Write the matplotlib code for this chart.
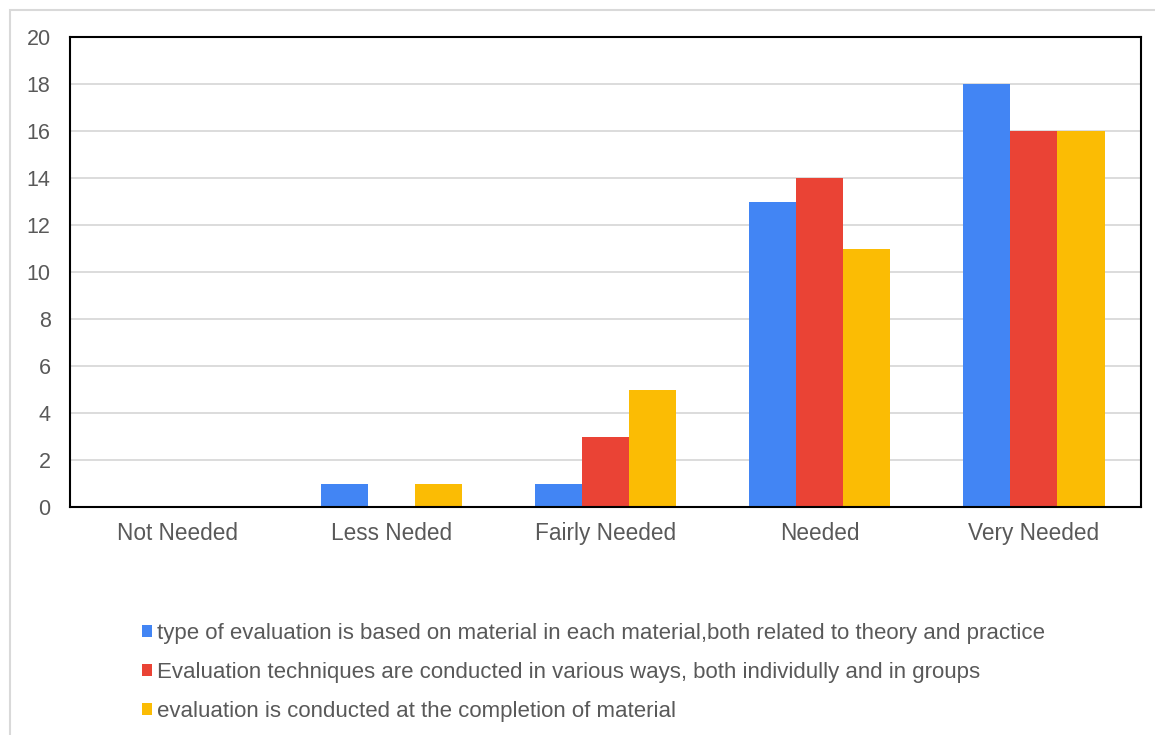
import matplotlib.pyplot as plt
import numpy as np
from matplotlib.patches import Patch, Rectangle

plt.rcParams['font.family'] = ['Liberation Sans', 'DejaVu Sans']

categories = ['Not Needed', 'Less Neded', 'Fairly Needed', 'Needed', 'Very Needed']
series_names = [
    'type of evaluation is based on material in each material,both related to theory and practice',
    'Evaluation techniques are conducted in various ways, both individully and in groups',
    'evaluation is conducted at the completion of material',
]
type_based = [0, 1, 1, 13, 18]
techniques = [0, 0, 3, 14, 16]
completion = [0, 1, 5, 11, 16]
colors = ['#4285F4', '#EA4335', '#FBBC04']

text_color = '#595959'

fig = plt.figure(figsize=(11.55, 7.35), dpi=100)
# light frame around the chart area
fig.patches.append(Rectangle((10 / 1155, -0.1), 1.2, 1 - 10 / 735 + 0.1,
                             transform=fig.transFigure, fill=False,
                             edgecolor='#d9d9d9', linewidth=1.5))

ax = fig.add_axes([70 / 1155, 1 - 507 / 735, (1141 - 70) / 1155, (507 - 37) / 735])

x = np.arange(len(categories))
w = 0.22
for i, vals in enumerate([type_based, techniques, completion]):
    ax.bar(x + (i - 1) * w, vals, width=w, color=colors[i], zorder=3)

ax.set_xlim(-0.5, len(categories) - 0.5)
ax.set_ylim(0, 20)
ax.set_yticks(range(0, 21, 2))
ax.set_xticks(x)
ax.set_xticklabels(categories)
ax.grid(axis='y', color='#d9d9d9', linewidth=1.3, zorder=0)
for s in ax.spines.values():
    s.set_color('black')
    s.set_linewidth(1.5)
    s.set_zorder(4)
ax.tick_params(axis='both', length=0, labelcolor=text_color)
ax.tick_params(axis='y', pad=14, labelsize=15.5)
ax.tick_params(axis='x', pad=10.5, labelsize=16.3)

handles = [Patch(facecolor=c, edgecolor='none') for c in colors]
fig.legend(handles, series_names, loc='upper left',
           bbox_to_anchor=(142 / 1155, 1 - 623 / 735), frameon=False,
           fontsize=16, labelcolor=text_color, handlelength=0.45,
           handleheight=0.45, handletextpad=0.22, labelspacing=0.8,
           borderpad=0, borderaxespad=0)

fig.savefig('out.png', dpi=100)
